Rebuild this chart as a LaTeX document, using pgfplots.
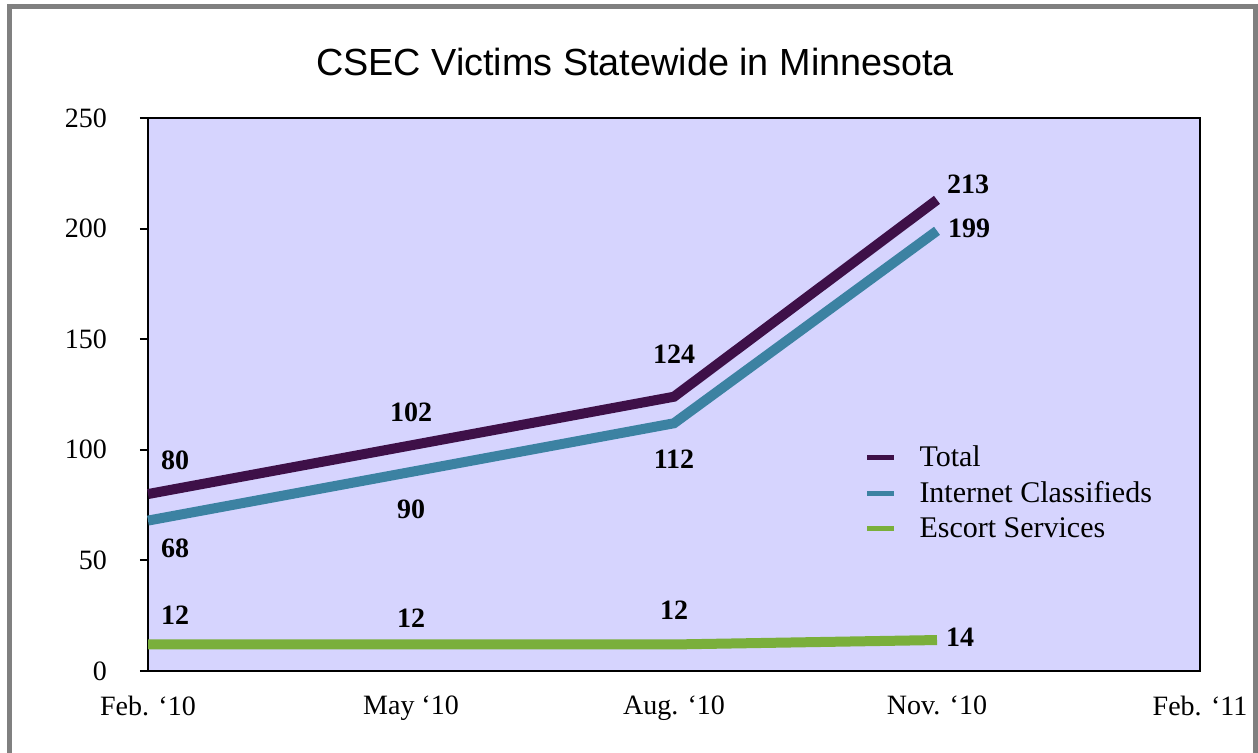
\documentclass[border=0pt]{standalone}
\usepackage{pgfplots}
\pgfplotsset{compat=1.18}
\usepackage{fontspec}
\setmainfont{Liberation Serif}
\newfontfamily\titlefont{Liberation Sans}
\definecolor{bgc}{HTML}{D6D4FE}
\definecolor{totc}{HTML}{3E1048}
\definecolor{intc}{HTML}{3C82A2}
\definecolor{escc}{HTML}{7AAF3B}
\definecolor{framec}{HTML}{808080}
\begin{document}
\begin{tikzpicture}
\useasboundingbox (0,0) rectangle (629pt,376pt);
\begin{scope}
\clip (0,0) rectangle (629pt,376pt);
\fill[white] (0,0) rectangle (629pt,376pt);
\draw[framec, line width=2.6pt] (4.75pt,-20pt) rectangle (627.75pt,372.75pt);
\end{scope}
\node[font=\titlefont\fontsize{18.9}{21}\selectfont, anchor=center] at (317.5pt,345pt) {CSEC Victims Statewide in Minnesota};
\begin{axis}[
  at={(74pt,40.5pt)}, anchor=south west,
  scale only axis, width=526pt, height=276.5pt,
  xmin=0, xmax=4, ymin=0, ymax=250,
  axis background/.style={fill=bgc},
  axis line style={black, line width=1pt},
  xtick={0,1,2,3,4},
  xticklabels={Feb. `10, May `10, Aug. `10, Nov. `10, Feb. `11},
  ytick={0,50,100,150,200,250},
  x tick label style={font=\fontsize{14}{16}\selectfont, yshift=-5pt},
  y tick label style={font=\fontsize{14}{16}\selectfont, xshift=-13pt},
  /pgf/number format/assume math mode=true,
  major tick length=4pt,
  xtick style={draw=none},
  ytick style={black, line width=1pt},
  tick align=outside,
  ytick pos=left,
  xtick pos=bottom,
  clip=false,
  legend style={at={(0.675,0.422)}, anchor=north west, draw=none, fill=none,
    font=\fontsize{15}{17}\selectfont, row sep=1.8pt,
    /tikz/every odd column/.append style={column sep=0pt}},
  legend cell align=left,
  legend image code/.code={\draw[#1, line width=2.5pt] (0pt,0pt) -- (13.5pt,0pt);},
  every axis plot/.append style={line width=5pt, line join=miter, line cap=butt},
]
\addplot[totc] coordinates {(0,80) (1,102) (2,124) (3,213)};
\addlegendentry{\hspace{9.5pt}Total}
\addplot[intc] coordinates {(0,68) (1,90) (2,112) (3,199)};
\addlegendentry{\hspace{9.5pt}Internet Classifieds}
\addplot[escc] coordinates {(0,12) (1,12) (2,12) (3,14)};
\addlegendentry{\hspace{9.5pt}Escort Services}
\begin{scope}[every node/.style={font=\bfseries\fontsize{14}{16}\selectfont}]
\node at ([xshift=13.5pt,yshift=17pt]axis cs:0,80) {80};
\node at ([yshift=16.5pt]axis cs:1,102) {102};
\node at ([yshift=21pt]axis cs:2,124) {124};
\node at ([xshift=15.5pt,yshift=7.5pt]axis cs:3,213) {213};
\node at ([xshift=13.5pt,yshift=-14pt]axis cs:0,68) {68};
\node at ([yshift=-18.5pt]axis cs:1,90) {90};
\node at ([yshift=-18pt]axis cs:2,112) {112};
\node at ([xshift=16pt,yshift=1pt]axis cs:3,199) {199};
\node at ([xshift=13.5pt,yshift=14.5pt]axis cs:0,12) {12};
\node at ([yshift=13pt]axis cs:1,12) {12};
\node at ([yshift=17pt]axis cs:2,12) {12};
\node at ([xshift=11.5pt,yshift=1.5pt]axis cs:3,14) {14};
\end{scope}
\end{axis}
\end{tikzpicture}
\end{document}
